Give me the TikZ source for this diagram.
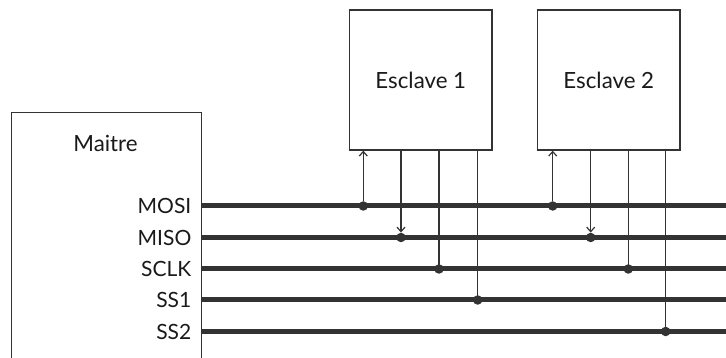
\documentclass[tikz,border=0pt]{standalone}
\usepackage{fontspec}
\setmainfont{Lato}
\usetikzlibrary{arrows.meta}
\definecolor{ink}{HTML}{333333}
\definecolor{txt}{HTML}{1A1A1A}
\begin{document}
\begin{tikzpicture}[x=1pt,y=-1pt,
  box/.style={draw=ink,line width=1.3pt,fill=white,inner sep=0pt},
  bus/.style={draw=ink,line width=5pt},
  tap/.style={draw=ink,line width=1.2pt},
  sig/.style={anchor=east,inner sep=0pt,text=txt,font=\fontsize{21}{24}\selectfont},
  title/.style={inner sep=0pt,text=txt,font=\fontsize{22.3}{26}\selectfont},
  dot/.style={circle,fill=ink,inner sep=0pt,minimum size=9.5pt},
  >={Straight Barb[length=4.5pt,width=8pt]}
]
\useasboundingbox (0,0) rectangle (726,358);
\clip (0,0) rectangle (726,358);

% master and slaves
\node[box,anchor=north west,minimum width=189.7pt,minimum height=300pt] (m) at (11,112) {};
\node[title] (mt) at (105.5,143.5) {Maitre};
\node[box,minimum width=142.3pt,minimum height=140pt] (s1) at (420.8,80) {};
\node[title] at (s1.center) {Esclave 1};
\node[box,minimum width=142.3pt,minimum height=140pt] (s2) at (608.8,80) {};
\node[title] at (s2.center) {Esclave 2};

% signal names
\node[sig] (mosi) at (191.5,206) {MOSI};
\node[sig] (miso) at (191.5,237.5) {MISO};
\node[sig] (sclk) at (191.5,269) {SCLK};
\node[sig] (ssa)  at (191.5,300) {SS1};
\node[sig] (ssb)  at (191.5,331.5) {SS2};

% bus ends at the right edge
\coordinate (mosiE) at (726,206);
\coordinate (misoE) at (726,237.5);
\coordinate (sclkE) at (726,269);
\coordinate (ssaE)  at (726,300);
\coordinate (ssbE)  at (726,331.5);

\draw[bus] (mosi -| m.east) -- (mosiE);
\draw[bus] (miso -| m.east) -- (misoE);
\draw[bus] (sclk -| m.east) -- (sclkE);
\draw[bus] (ssa -| m.east) -- (ssaE);
\draw[bus] (ssb -| m.east) -- (ssbE);

% taps of slave 1
\node[dot] (a1) at (363.3,206) {};
\node[dot] (a2) at (401,237.5) {};
\node[dot] (a3) at (439,269) {};
\node[dot] (a4) at (477.7,300) {};
\draw[tap,->] (a1) -- (a1 |- s1.south);
\draw[tap,->] (a2 |- s1.south) -- (a2);
\draw[tap] (a3 |- s1.south) -- (a3.center);
\draw[tap] (a4 |- s1.south) -- (a4.center);

% taps of slave 2
\node[dot] (b1) at (552.7,206) {};
\node[dot] (b2) at (590.7,237.5) {};
\node[dot] (b3) at (628.3,269) {};
\node[dot] (b4) at (665.7,331.5) {};
\draw[tap,->] (b1) -- (b1 |- s2.south);
\draw[tap,->] (b2 |- s2.south) -- (b2);
\draw[tap] (b3 |- s2.south) -- (b3.center);
\draw[tap] (b4 |- s2.south) -- (b4.center);
\end{tikzpicture}
\end{document}
